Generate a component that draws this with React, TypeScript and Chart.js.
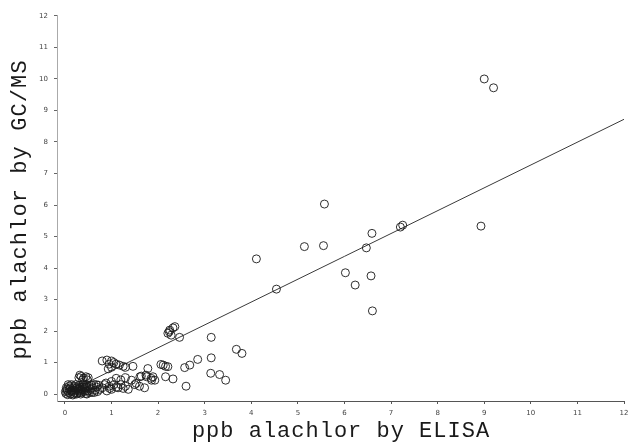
import React, { useEffect, useRef } from "react";
import { Chart, registerables } from "chart.js";

Chart.register(...registerables);

// ELISA (x) vs GC/MS (y), ppb alachlor
const elisaX = [
  0.02, 0.05, 0.08, 0.1, 0.12, 0.15, 0.18, 0.2, 0.22, 0.25, 0.28, 0.3, 0.32, 0.35, 0.38, 0.4, 0.42, 0.45, 0.48, 0.5,
  0.52, 0.55, 0.58, 0.6, 0.62, 0.65, 0.68, 0.7, 0.72, 0.75, 0.03, 0.06, 0.09, 0.13, 0.17, 0.21, 0.24, 0.27, 0.31, 0.34,
  0.37, 0.41, 0.44, 0.47, 0.01, 0.04, 0.07, 0.11, 0.14, 0.16, 0.19, 0.23, 0.26, 0.29, 0.33, 0.36, 0.39, 0.43, 0.46, 0.53,
  0.57, 0.63, 0.67,
  0.8, 0.85, 0.9, 0.95, 1.0, 0.96, 1.05, 1.1, 1.14, 1.2, 1.25, 1.36, 1.3, 1.5, 1.71, 1.6, 0.88, 1.0,
  0.3, 0.35, 0.4, 0.45, 0.5, 0.38, 0.32, 0.48,
  0.8, 0.9, 0.95, 1.0, 1.05, 1.1, 1.17, 1.25, 1.3, 1.46, 0.93, 1.0,
  1.3, 1.43, 1.53, 1.61, 1.74, 1.85, 1.64, 1.75, 1.89, 1.86, 1.93, 1.2, 1.1,
  1.78, 2.06, 2.11, 2.16, 2.21, 2.16, 2.32, 2.6, 2.57, 2.68, 2.85, 3.14, 3.14, 3.13, 3.32, 3.45, 3.68, 3.8, 2.46,
  2.21, 2.25, 2.28, 2.32, 2.36, 2.24,
  4.11, 4.54, 5.14, 5.55, 5.57, 6.02, 6.23, 6.47, 6.59, 6.57, 6.6, 7.2, 7.25, 8.93, 9.0, 9.2,
];
const gcmsY = [
  0.02, 0.1, 0.05, 0.15, 0.0, 0.08, 0.2, 0.05, 0.12, 0.0, 0.1, 0.18, 0.05, 0.12, 0.22, 0.08, 0.15, 0.02, 0.2, 0.1,
  0.25, 0.15, 0.05, 0.2, 0.3, 0.12, 0.22, 0.08, 0.28, 0.15, 0.2, -0.02, 0.25, 0.1, -0.03, 0.25, 0.18, 0.03, 0.27, 0.0,
  0.15, 0.28, 0.1, 0.0, 0.08, 0.15, 0.3, 0.2, 0.3, 0.12, 0.0, 0.3, 0.22, 0.15, 0.2, 0.05, 0.3, 0.2, 0.3, 0.05,
  0.28, 0.05, 0.3,
  0.2, 0.3, 0.1, 0.25, 0.15, 0.18, 0.3, 0.22, 0.2, 0.3, 0.18, 0.15, 0.25, 0.3, 0.2, 0.25, 0.35, 0.4,
  0.52, 0.56, 0.5, 0.55, 0.52, 0.45, 0.6, 0.45,
  1.05, 1.08, 0.95, 0.85, 1.0, 0.95, 0.92, 0.88, 0.85, 0.88, 0.8, 1.05,
  0.52, 0.44, 0.34, 0.55, 0.6, 0.5, 0.57, 0.55, 0.55, 0.44, 0.44, 0.45, 0.5,
  0.81, 0.94, 0.92, 0.88, 0.87, 0.55, 0.48, 0.25, 0.84, 0.92, 1.1, 1.15, 1.8, 0.66, 0.62, 0.44, 1.42, 1.29, 1.8,
  1.93, 2.03, 1.87, 2.1, 2.14, 1.98,
  4.29, 3.33, 4.68, 4.71, 6.03, 3.85, 3.46, 4.64, 5.1, 3.75, 2.64, 5.3, 5.36, 5.33, 10.0, 9.72,
];

// regression line end points
const fitX = [0, 12];
const fitY = [0.02, 8.72];

const xTicks = [0, 1, 2, 3, 4, 5, 6, 7, 8, 9, 10, 11, 12];
const yTicks = [0, 1, 2, 3, 4, 5, 6, 7, 8, 9, 10, 11, 12];

const xTitle = "ppb alachlor by ELISA";
const yTitle = "ppb alachlor by GC/MS";

const titlePlugin = {
  id: "typewriterTitles",
  afterDraw(chart: any) {
    const ctx = chart.ctx as CanvasRenderingContext2D;
    const area = chart.chartArea;
    ctx.save();
    ctx.fillStyle = "#1a1a1a";
    ctx.font = '22px "Liberation Mono"';
    ctx.textAlign = "center";
    ctx.textBaseline = "middle";
    // x title
    (ctx as any).letterSpacing = "1px";
    ctx.fillText(xTitle, (area.left + area.right) / 2 + 0.5, 431);
    // y title
    (ctx as any).letterSpacing = "1.1px";
    ctx.translate(20, 210);
    ctx.rotate(-Math.PI / 2);
    ctx.fillText(yTitle, 0.55, 0);
    ctx.restore();
  },
};

export default function App() {
  const ref = useRef<HTMLCanvasElement>(null);
  useEffect(() => {
    if (!ref.current) return;
    const points = elisaX.map((x, i) => ({ x, y: gcmsY[i] }));
    const line = fitX.map((x, i) => ({ x, y: fitY[i] }));
    const chart = new Chart(ref.current, {
      type: "scatter",
      data: {
        datasets: [
          {
            data: points,
            pointStyle: "circle",
            pointRadius: 4,
            pointBorderWidth: 1,
            borderColor: "rgba(25,25,25,0.9)",
            backgroundColor: "rgba(0,0,0,0)",
            pointHoverRadius: 4,
          },
          {
            type: "line",
            data: line,
            showLine: true,
            pointRadius: 0,
            borderColor: "#3a3a3a",
            borderWidth: 1,
            fill: false,
          } as any,
        ],
      },
      options: {
        responsive: false,
        animation: false,
        events: [],
        layout: { padding: { top: 15, right: 4, left: 0, bottom: 0 } },
        plugins: { legend: { display: false }, tooltip: { enabled: false } },
        scales: {
          x: {
            type: "linear",
            min: -0.17,
            max: 12,
            afterBuildTicks: (axis: any) => {
              axis.ticks = xTicks.map((v) => ({ value: v }));
            },
            afterFit: (scale: any) => {
              scale.height = 43;
              scale.paddingRight = 0;
              scale.paddingLeft = 0;
            },
            grid: { display: true, drawOnChartArea: false, drawTicks: true, tickLength: 3, color: "#555" },
            border: { display: true, color: "#555", width: 1, dash: [5, 2] },
            ticks: {
              font: { family: "DejaVu Sans", size: 7 },
              color: "#444",
              padding: 5,
              maxRotation: 0,
              autoSkip: false,
              callback: (v: any) => String(v),
            },
          },
          y: {
            type: "linear",
            min: -0.22,
            max: 12.03,
            afterBuildTicks: (axis: any) => {
              axis.ticks = yTicks.map((v) => ({ value: v }));
            },
            afterFit: (scale: any) => {
              scale.width = 57;
            },
            grid: { display: true, drawOnChartArea: false, drawTicks: true, tickLength: 3, color: "#666" },
            border: { display: true, color: "#aaa", width: 1, dash: [1, 3] },
            ticks: {
              font: { family: "DejaVu Sans", size: 7 },
              color: "#444",
              padding: 6,
              autoSkip: false,
              callback: (v: any) => String(v),
            },
          },
        },
      },
      plugins: [titlePlugin],
    });
    return () => chart.destroy();
  }, []);
  return (
    <div style={{ position: "absolute", left: 0, top: 0, width: 629, height: 444, background: "#fff" }}>
      <canvas ref={ref} width={629} height={444} />
    </div>
  );
}
